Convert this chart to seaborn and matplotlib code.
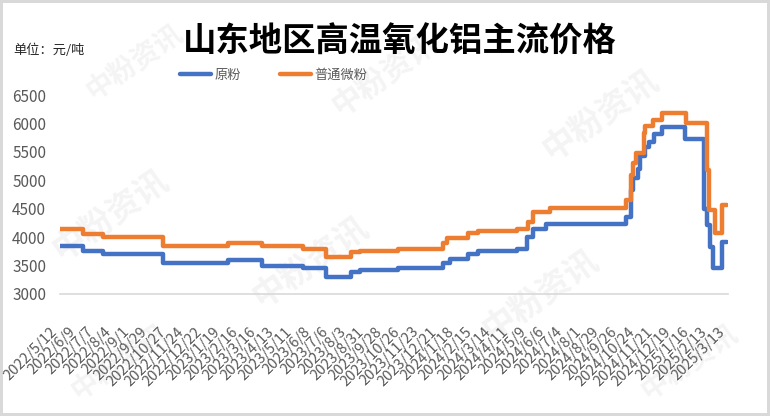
import pandas as pd
import seaborn as sns
import matplotlib.pyplot as plt
from matplotlib.lines import Line2D
from matplotlib.transforms import ScaledTranslation

# step levels (date the price changes, new price)
raw_dates = ['2022-05-12', '2022-06-17', '2022-07-18', '2022-10-19', '2023-01-28', '2023-03-21',
             '2023-05-24', '2023-06-29', '2023-08-07', '2023-08-20', '2023-10-18', '2023-12-27',
             '2024-01-07', '2024-02-04', '2024-02-19', '2024-04-19', '2024-05-05', '2024-05-15',
             '2024-06-04', '2024-10-06', '2024-10-14', '2024-10-17', '2024-10-24', '2024-10-28',
             '2024-11-04', '2024-11-10', '2024-11-19', '2024-11-30', '2025-01-05', '2025-02-04',
             '2025-02-08', '2025-02-13', '2025-02-17', '2025-03-04', '2025-03-11']
raw_prices = [3850, 3750, 3700, 3550, 3600, 3500, 3450, 3300, 3390, 3420, 3450, 3550,
              3620, 3700, 3750, 3800, 4000, 4140, 4230, 4360, 4830, 5040, 5200, 5420,
              5590, 5680, 5820, 5940, 5720, 4500, 4210, 3830, 3450, 3920, 3920]

fine_dates = ['2022-05-12', '2022-06-17', '2022-07-18', '2022-10-19', '2023-01-28', '2023-03-21',
              '2023-05-24', '2023-06-29', '2023-08-07', '2023-08-20', '2023-10-18', '2023-12-27',
              '2024-01-02', '2024-02-04', '2024-02-19', '2024-04-19', '2024-05-07', '2024-05-15',
              '2024-06-10', '2024-10-06', '2024-10-14', '2024-10-17', '2024-10-21', '2024-11-02',
              '2024-11-05', '2024-11-17', '2024-11-30', '2025-01-07', '2025-02-08', '2025-02-11',
              '2025-02-21', '2025-03-04', '2025-03-11']
fine_prices = [4150, 4050, 4000, 3850, 3900, 3850, 3800, 3650, 3730, 3760, 3800, 3900,
               3980, 4070, 4100, 4140, 4270, 4450, 4510, 4650, 5100, 5300, 5480, 5830,
               5950, 6060, 6180, 6000, 5180, 4480, 4070, 4570, 4570]

tick_labels = ['2022/5/12', '2022/6/9', '2022/7/7', '2022/8/4', '2022/9/1', '2022/9/29',
               '2022/10/27', '2022/11/24', '2022/12/22', '2023/1/19', '2023/2/16', '2023/3/16',
               '2023/4/13', '2023/5/11', '2023/6/8', '2023/7/6', '2023/8/3', '2023/8/31',
               '2023/9/28', '2023/10/26', '2023/11/23', '2023/12/21', '2024/1/18', '2024/2/15',
               '2024/3/14', '2024/4/11', '2024/5/9', '2024/6/6', '2024/7/4', '2024/8/1',
               '2024/8/29', '2024/9/26', '2024/10/24', '2024/11/21', '2024/12/19', '2025/1/16',
               '2025/2/13', '2025/3/13']

BLUE = '#4472C4'
ORANGE = '#ED7D31'
GREY = '#595959'

df = pd.concat([
    pd.DataFrame({'date': pd.to_datetime(raw_dates), 'price': raw_prices, 'series': '原粉'}),
    pd.DataFrame({'date': pd.to_datetime(fine_dates), 'price': fine_prices, 'series': '普通微粉'}),
])

sns.set_style("white")
plt.rcParams['font.family'] = ['Noto Sans CJK SC', 'DejaVu Sans']

fig = plt.figure(figsize=(7.7, 4.16), dpi=100)
fig.patch.set_edgecolor('#d9d9d9')
fig.patch.set_linewidth(3)

# faint watermarks, kept behind the plot
for wx, wy, fs in [(135, 62, 20), (110, 215, 24), (310, 262, 24), (385, 75, 22), (600, 115, 24),
                   (540, 295, 24), (690, 362, 20), (120, 362, 20)]:
    fig.text(wx / 770, 1 - wy / 416, '中粉资讯', fontsize=fs, weight='bold', color='#f4f4f4',
             rotation=35, ha='center', va='center', zorder=-5)

ax = fig.add_axes([60 / 770, 1 - 294 / 416, 668 / 770, 199 / 416])
ax.set_zorder(2)
ax.patch.set_alpha(0)

sns.lineplot(data=df, x='date', y='price', hue='series', palette=[BLUE, ORANGE],
             hue_order=['原粉', '普通微粉'], drawstyle='steps-post', linewidth=3.2,
             legend=False, ax=ax, estimator=None)

ax.set_ylim(3000, 6500)
ax.set_yticks(range(3000, 7000, 500))
ticks = pd.to_datetime(tick_labels, format='%Y/%m/%d')
ax.set_xlim(ticks[0], ticks[-1])
ax.set_xticks(ticks)
ax.set_xticklabels(tick_labels, rotation=45, ha='right', va='top', fontsize=10.5, color=GREY)
for lbl in ax.get_xticklabels():
    lbl.set_transform(lbl.get_transform() + ScaledTranslation(0.14, 0, fig.dpi_scale_trans))
ax.tick_params(axis='x', direction='out', length=5, width=1, color='#d9d9d9', pad=17)
ax.tick_params(axis='y', length=0, pad=10, labelsize=11, labelcolor=GREY)
ax.set_xlabel('')
ax.set_ylabel('')
for s in ['top', 'right', 'left']:
    ax.spines[s].set_visible(False)
ax.spines['bottom'].set_color('#d9d9d9')
ax.spines['bottom'].set_linewidth(1.2)

fig.text(400 / 770, 1 - 42 / 416, '山东地区高温氧化铝主流价格', fontsize=24, weight='bold',
         ha='center', va='center', color='black')
fig.text(13 / 770, 1 - 50 / 416, '单位：元/吨', fontsize=9.5, ha='left', va='center', color='#262626')

handles = [Line2D([], [], color=BLUE, lw=3.2), Line2D([], [], color=ORANGE, lw=3.2)]
fig.legend(handles, ['原粉', '普通微粉'], loc='center', bbox_to_anchor=(274 / 770, 1 - 75 / 416),
           ncol=2, frameon=False, handlelength=2.3, columnspacing=2.95, handletextpad=0.3,
           fontsize=9.5, labelcolor=GREY)

fig.savefig('out.png', dpi=100, facecolor='white')
